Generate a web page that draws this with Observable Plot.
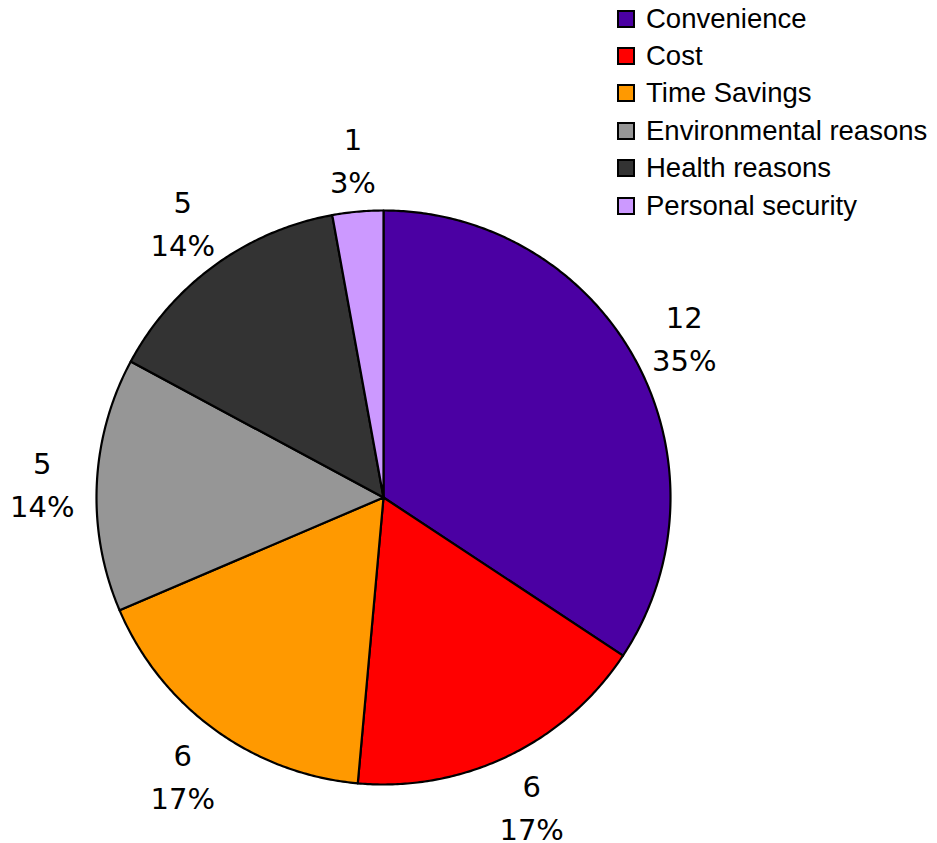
<!DOCTYPE html>
<html><head><meta charset="utf-8">
<script src="https://cdn.jsdelivr.net/npm/d3@7"></script>
<script src="https://cdn.jsdelivr.net/npm/@observablehq/plot@0.6"></script>
<style>
body{margin:0;background:#fff;}
#chart{position:relative;width:937px;height:843px;overflow:hidden;}
#legend{position:absolute;left:617px;top:0px;font-family:"Liberation Sans",Arial,sans-serif;font-size:27.5px;color:#000;}
.item{display:flex;align-items:center;height:37.4px;white-space:nowrap;}
.sw{width:14px;height:14px;border:2px solid #000;margin-right:11px;flex:none;}
</style></head><body><div id="chart"></div>
<script>
const categories = ["Convenience","Cost","Time Savings","Environmental reasons","Health reasons","Personal security"];
const counts = [12, 6, 6, 5, 5, 1];
const percentLabels = ["35%", "17%", "17%", "14%", "14%", "3%"];
const colors = ["#4B00A3", "#FF0000", "#FF9900", "#969696", "#333333", "#CC99FF"];

const arcs = d3.pie().sort(null)(counts);
const points = [];
arcs.forEach((a, i) => {
  const cat = categories[i];
  points.push({cat, x: 0, y: 0});
  const n = Math.max(2, Math.ceil((a.endAngle - a.startAngle) / (Math.PI / 360)));
  for (let k = 0; k <= n; k++) {
    const t = a.startAngle + (a.endAngle - a.startAngle) * k / n;
    points.push({cat, x: Math.sin(t), y: Math.cos(t)});
  }
  points.push({cat, x: 0, y: 0});
});
const labelR = 1.19;
const labels = arcs.map((a, i) => {
  const m = (a.startAngle + a.endAngle) / 2;
  return {x: labelR * Math.sin(m), y: labelR * Math.cos(m), text: counts[i] + "\n" + percentLabels[i]};
});

const plot = Plot.plot({
  width: 937, height: 843, margin: 0,
  x: {domain: [-1, 1], range: [96, 670], axis: null},
  y: {domain: [-1, 1], range: [784, 210], axis: null},
  color: {domain: categories, range: colors},
  style: {background: "#fff", overflow: "visible"},
  marks: [
    Plot.line(points, {x: "x", y: "y", z: "cat", fill: "cat", stroke: "#000", strokeWidth: 2.2, strokeLinejoin: "round"}),
    Plot.text(labels, {x: "x", y: "y", text: "text", fontSize: 29, lineHeight: 1.48, fontFamily: "DejaVu Sans", fill: "#000"})
  ]
});
const chart = document.getElementById("chart");
chart.appendChild(plot);
const legend = document.createElement("div");
legend.id = "legend";
categories.forEach((c, i) => {
  const item = document.createElement("div");
  item.className = "item";
  const sw = document.createElement("span");
  sw.className = "sw";
  sw.style.background = colors[i];
  const tx = document.createElement("span");
  tx.textContent = c;
  item.appendChild(sw); item.appendChild(tx);
  legend.appendChild(item);
});
chart.appendChild(legend);
</script>
</body></html>
